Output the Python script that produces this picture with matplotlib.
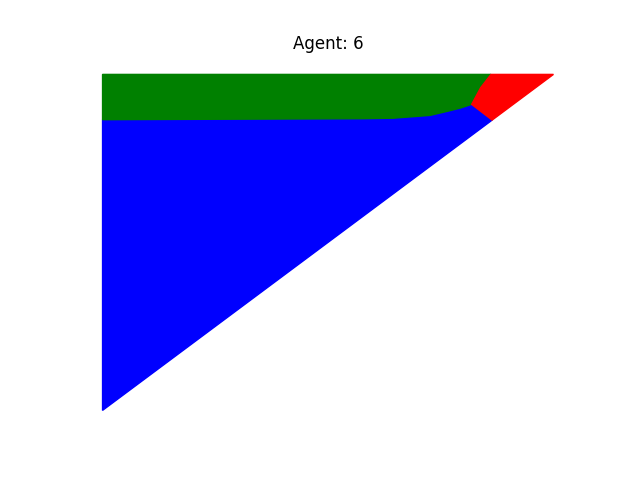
import matplotlib
matplotlib.use('Agg')
import matplotlib.pyplot as plt

# borders between the regions (data units, 0..1)
green_blue_x = [0.0, 0.5776, 0.6441, 0.7262, 0.7639, 0.7927]
green_blue_y = [0.8652, 0.8681, 0.8696, 0.8780, 0.8899, 0.8995]
junction = (0.8186, 0.9108)
red_green_x = [0.8614, 0.8386]   # from the top edge down to the junction
red_green_y = [1.0, 0.9606]
red_blue_end = (0.864, 0.864)    # where the red/blue border meets the diagonal

# blue region: left edge, green/blue border, junction, diagonal
blue_x = [0.0] + green_blue_x + [junction[0], red_blue_end[0]]
blue_y = [0.0] + green_blue_y + [junction[1], red_blue_end[1]]

# green region: top edge, red/green border, green/blue border back
green_x = [0.0] + red_green_x + [junction[0]] + green_blue_x[::-1]
green_y = [1.0] + red_green_y + [junction[1]] + green_blue_y[::-1]

# red region: top right corner
red_x = [red_green_x[0], 1.0, red_blue_end[0], junction[0]] + red_green_x[:0:-1]
red_y = [red_green_y[0], 1.0, red_blue_end[1], junction[1]] + red_green_y[:0:-1]

fig, ax = plt.subplots(figsize=(6.4, 4.8), dpi=100)
ax.fill(blue_x, blue_y, color='blue', lw=1)
ax.fill(green_x, green_y, color='green', lw=1)
ax.fill(red_x, red_y, color='red', lw=1)
ax.set_xlim(-0.05, 1.05)
ax.set_ylim(-0.05, 1.05)
ax.axis('off')
ax.set_title('Agent: 6')
fig.savefig('out.png')
